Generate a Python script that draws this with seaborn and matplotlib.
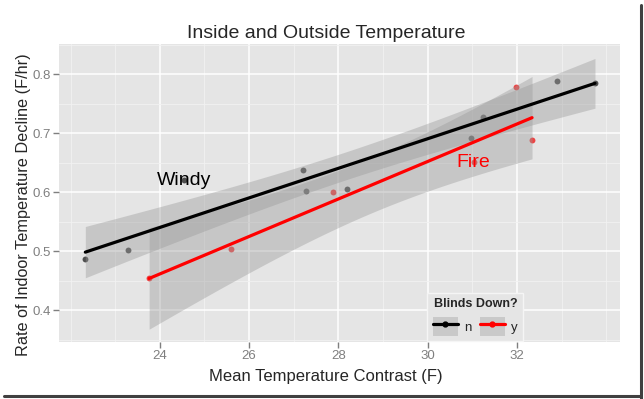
import matplotlib
matplotlib.use('Agg')
import matplotlib.pyplot as plt
from matplotlib.lines import Line2D
from matplotlib.patches import Patch
import numpy as np
import pandas as pd
import seaborn as sns

# blinds up (n)
contrast_n = [22.33, 23.28, 24.54, 27.21, 27.27, 28.2, 30.97, 31.24, 32.9, 33.75]
decline_n = [0.487, 0.502, 0.620, 0.637, 0.602, 0.605, 0.6915, 0.728, 0.788, 0.785]
# blinds down (y)
contrast_y = [23.76, 25.59, 27.88, 31.03, 31.98, 32.34]
decline_y = [0.454, 0.504, 0.6005, 0.651, 0.778, 0.688]

labels = {'Windy': (24.54, 0.620, 'black'), 'Fire': (31.03, 0.651, 'red')}

# t quantiles (97.5%) for the confidence band, df = n - 2
t975 = {8: 2.306, 4: 2.776}

df = pd.DataFrame({
    'contrast': contrast_n + contrast_y,
    'decline': decline_n + decline_y,
    'blinds': ['n'] * len(contrast_n) + ['y'] * len(contrast_y),
})

sns.set_style('darkgrid', {'axes.facecolor': '#E5E5E5', 'grid.color': 'white'})
plt.rcParams['font.family'] = ['Liberation Sans', 'DejaVu Sans']

fig = plt.figure(figsize=(6.44, 3.99), dpi=100)
ax = fig.add_axes([0.0916, 0.1429, 0.8711, 0.7468])

colors = {'n': ('#2A2A2A', 'black'), 'y': ('#EE1C1C', 'red')}
for grp in ['n', 'y']:
    sub = df[df.blinds == grp]
    sns.regplot(data=sub, x='contrast', y='decline', ax=ax, ci=None,
                scatter_kws={'color': colors[grp][0], 's': 18, 'linewidths': 0, 'zorder': 2},
                line_kws={'color': colors[grp][1], 'lw': 2.3, 'zorder': 4})
    # linear-model 95% confidence band
    x = sub.contrast.to_numpy()
    y = sub.decline.to_numpy()
    n = len(x)
    b, a = np.polyfit(x, y, 1)
    s = np.sqrt(np.sum((y - (a + b * x)) ** 2) / (n - 2))
    grid = np.linspace(x.min(), x.max(), 100)
    se = s * np.sqrt(1 / n + (grid - x.mean()) ** 2 / np.sum((x - x.mean()) ** 2))
    fit = a + b * grid
    ax.fill_between(grid, fit - t975[n - 2] * se, fit + t975[n - 2] * se,
                    facecolor='#999999', alpha=0.4, lw=0, zorder=3)

for txt, (x, y, col) in labels.items():
    ax.text(x, y, txt, color=col, fontsize=14, ha='center', va='center', zorder=5)

ax.set_xlim(21.74, 34.31)
ax.set_ylim(0.346, 0.851)
ax.set_xticks([24, 26, 28, 30, 32])
ax.set_xticks([22, 23, 25, 27, 29, 31, 33, 34], minor=True)
ax.set_yticks([0.4, 0.5, 0.6, 0.7, 0.8])
ax.set_yticks([0.35, 0.45, 0.55, 0.65, 0.75, 0.85], minor=True)
ax.grid(True, which='major', color='white', lw=1.1)
ax.grid(True, which='minor', color='#F2F2F2', lw=0.6)
ax.set_axisbelow(True)
ax.tick_params(axis='both', which='major', colors='#7F7F7F', labelsize=9.5,
               length=4, width=1, direction='out', bottom=True, left=True, pad=2)
ax.tick_params(which='minor', length=0)
for sp in ax.spines.values():
    sp.set_visible(False)

ax.set_title('Inside and Outside Temperature', fontsize=14, pad=4, x=0.476)
ax.set_xlabel('Mean Temperature Contrast (F)', fontsize=12)
ax.set_ylabel('Rate of Indoor Temperature Decline (F/hr)', fontsize=11.7)
ax.xaxis.set_label_coords(0.476, -0.09)
ax.yaxis.set_label_coords(-0.05, 0.46)

handles = []
for grp in ['n', 'y']:
    handles.append((Patch(facecolor='#C9C9C9', edgecolor='none'),
                    Line2D([], [], color=colors[grp][1], lw=2.3, marker='o', markersize=3.5)))
leg = ax.legend(handles, ['n', 'y'], title='Blinds Down?', ncol=2, loc='lower left',
                bbox_to_anchor=(0.645, -0.02), frameon=True, fontsize=9.5,
                title_fontproperties={'weight': 'bold', 'size': 9},
                handlelength=1.9, handleheight=1.9, columnspacing=0.6, handletextpad=0.5,
                borderpad=0.4, fancybox=False)
leg.get_frame().set_facecolor('#E5E5E5')
leg.get_frame().set_edgecolor('#F5F5F5')
leg.get_frame().set_alpha(1)

# screenshot shadow border
fig.add_artist(Line2D([640.5 / 644, 640.5 / 644], [0, 394 / 399], color='#404040', lw=2.2,
                      transform=fig.transFigure))
fig.add_artist(Line2D([4 / 644, 641 / 644], [2.8 / 399, 2.8 / 399], color='#404040', lw=2.2,
                      transform=fig.transFigure))

fig.savefig('out.png', dpi=100)
